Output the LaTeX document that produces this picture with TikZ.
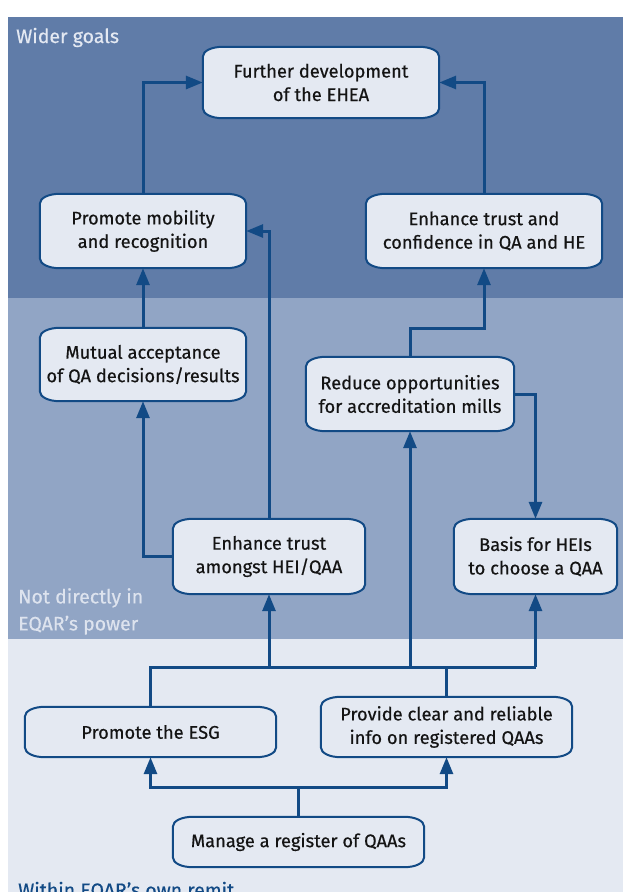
\documentclass[tikz,border=0pt]{standalone}
\usepackage{fontspec}
\setmainfont{Fira Sans}[FakeBold=0.5]
\usetikzlibrary{arrows.meta,backgrounds,calc}
\definecolor{bandA}{HTML}{607CA8}
\definecolor{bandB}{HTML}{91A5C5}
\definecolor{bandC}{HTML}{E4E9F2}
\definecolor{boxfill}{HTML}{E4E9F2}
\definecolor{lineC}{HTML}{124A85}
\definecolor{txt}{HTML}{141414}
\newcommand\eboxshape[1]{%
  \path[boxshape] ([yshift=-10pt]#1.north west) .. controls ([yshift=-4pt]#1.north west) and ([xshift=9pt]#1.north west) .. ([xshift=20pt]#1.north west)
   -- ([xshift=-20pt]#1.north east) .. controls ([xshift=-9pt]#1.north east) and ([yshift=-4pt]#1.north east) .. ([yshift=-10pt]#1.north east)
   -- ([yshift=10pt]#1.south east) .. controls ([yshift=4pt]#1.south east) and ([xshift=-9pt]#1.south east) .. ([xshift=-20pt]#1.south east)
   -- ([xshift=20pt]#1.south west) .. controls ([xshift=9pt]#1.south west) and ([yshift=4pt]#1.south west) .. ([yshift=10pt]#1.south west) -- cycle;}
\tikzset{
  nbox/.style={inner sep=0pt, align=center, text=txt, font=\fontsize{18.3}{23.5}\selectfont},
  boxshape/.style={fill=boxfill, draw=lineC, line width=2pt},
  conn/.style={draw=lineC, line width=3pt},
  arr/.style={conn, -{Triangle[length=17pt,width=13pt]}},
  band/.style={font=\fontsize{19.5}{27}\selectfont, align=left, inner sep=0pt}
}
\begin{document}
\begin{tikzpicture}[x=1pt,y=-1pt]
\useasboundingbox (0,0) rectangle (623,892);
\clip (0,0) rectangle (623,892);
\begin{pgfonlayer}{background}
\fill[white] (0,0) rectangle (623,892);
\fill[bandA] (8,17) rectangle (623,298);
\fill[bandB] (8,298) rectangle (623,639);
\fill[bandC] (8,639) rectangle (623,900);
\end{pgfonlayer}
\node[band, text=bandC, anchor=base west] (lwider) at (16,43) {Wider goals};
\node[band, text=bandC!92!bandB, anchor=north west] (lnot) at (18,588) {Not directly in\\EQAR's power};
\node[band, text=lineC, anchor=base west] (lwithin) at (18,897) {Within EQAR's own remit};

\node[nbox, minimum width=236pt, minimum height=71pt] (ehea) at (321,82.5) {Further development\\of the EHEA};
\node[nbox, minimum width=206pt, minimum height=74pt] (mob) at (143,231) {Promote mobility\\and recognition};
\node[nbox, minimum width=236pt, minimum height=74pt] (trust) at (484,231) {Enhance trust and\\confidence in QA and HE};
\node[nbox, minimum width=206pt, minimum height=73pt] (mutual) at (143,364.5) {Mutual acceptance\\of QA decisions/results};
\node[nbox, minimum width=208pt, minimum height=74pt] (reduce) at (410,394) {Reduce opportunities\\for accreditation mills};
\node[nbox, minimum width=192pt, minimum height=75pt] (amongst) at (269,556.5) {Enhance trust\\amongst HEI/QAA};
\node[nbox, minimum width=163pt, minimum height=75pt] (basis) at (535.5,556.5) {Basis for HEIs\\to choose a QAA};
\node[nbox, minimum width=251pt, minimum height=50pt] (esg) at (150.5,732) {Promote the ESG};
\node[nbox, minimum width=251pt, minimum height=60pt] (provide) at (446.5,727) {Provide clear and reliable\\info on registered QAAs};
\node[nbox, minimum width=251pt, minimum height=50pt] (manage) at (298.5,842) {Manage a register of QAAs};

\begin{pgfonlayer}{background}
\foreach \n in {ehea,mob,trust,mutual,reduce,amongst,basis,esg,provide,manage} {\eboxshape{\n}}
\end{pgfonlayer}

\coordinate (jr) at (484,328);
\coordinate (bus) at (0,667);
\coordinate (bus2) at (0,787);

\draw[arr] (mob.north) |- (ehea.west);
\draw[arr] (trust.north) |- (ehea.east);
\draw[arr] (mutual.north) -- (mob.south);
\draw[arr] (amongst.north) |- (mob.east);
\draw[arr] (amongst.west) -| (mutual.south);
\draw[arr] (reduce.north) |- (jr) -- (trust.south);
\draw[arr] (reduce.east) -| (basis.north);

\draw[conn] (esg.north) |- (basis.south |- bus);
\draw[conn] (provide.north) -- (provide.north |- bus);
\draw[arr] (basis.south |- bus) -- (basis.south);
\draw[arr] (amongst.south |- bus) -- (amongst.south);
\draw[arr] (reduce.south |- bus) -- (reduce.south);

\draw[arr] (manage.north) |- (esg.south |- bus2) -- (esg.south);
\draw[arr] (manage.north) |- (provide.south |- bus2) -- (provide.south);
\end{tikzpicture}
\end{document}
